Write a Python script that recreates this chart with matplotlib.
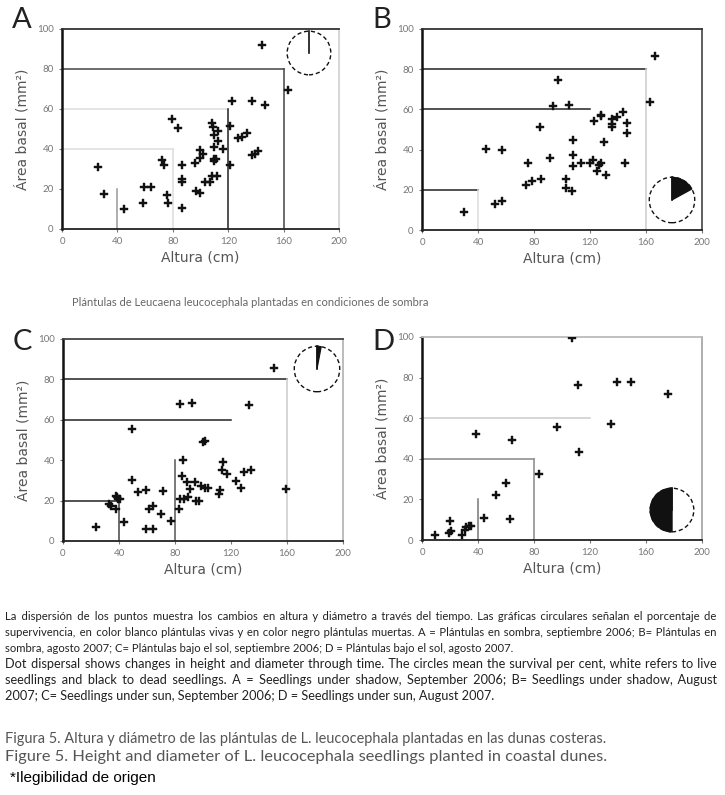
import numpy as np
import matplotlib
matplotlib.use("Agg")
import matplotlib.pyplot as plt
from matplotlib.patches import Circle, Wedge

plt.rcParams['font.family'] = ['Lato', 'DejaVu Sans']

# ---- data ----
a_x = [25.7, 30.3, 45, 58.7, 59.1, 64, 72.4, 73.3, 75.5, 76.4, 79.6, 83.4, 86.5, 86.3, 87, 87,
       96.2, 97.1, 99.8, 99.3, 99.8, 101.7, 103.4, 106.7, 108.2, 108.7, 109.4, 109.4, 109.6, 110.1,
       108.4, 112, 111.5, 112.3, 112.5, 116.3, 121.2, 121.4, 122.8, 127.4, 130.3, 133.4, 137, 137,
       139, 141.6, 144.7, 146.6, 163]
a_y = [31.2, 17.3, 10.2, 12.8, 21.2, 21.2, 34.5, 32.2, 17, 13.2, 54.8, 50.5, 32, 24.8, 23.5, 10.3,
       32.8, 18.8, 18.2, 35.3, 39.5, 37.5, 23.5, 23.7, 52.8, 50.8, 47, 40.8, 35, 34,
       26.7, 26.7, 35.2, 49.2, 44, 39.8, 51.5, 31.8, 64, 45.3, 45.8, 47.8, 64, 36.8,
       37.3, 39, 91.8, 61.8, 69.5]

b_x = [30, 46, 52, 57.2, 57, 74.6, 75.8, 78.9, 84.6, 84.9, 91.5, 93.4, 96.8, 102.7, 103, 104.9,
       107, 107.5, 107.5, 108, 113.5, 119.9, 122.3, 122.8, 124.7, 126.6, 127.5, 128, 128, 129.7,
       131.1, 135.4, 135.9, 135.9, 139, 143.7, 144.9, 146.6, 146.6, 162.8, 166.6]
b_y = [9, 40.5, 12.9, 14.3, 39.8, 22.4, 33.2, 24.5, 51.4, 25.4, 35.8, 61.7, 74.6, 25.2, 21.1, 62.4,
       19.6, 44.8, 37.1, 31.7, 33.5, 33.2, 34.8, 54.2, 29.5, 32.5, 33.3, 57.2, 56.7, 43.6,
       27.4, 51.4, 55.2, 52.7, 56, 58.9, 33.2, 53.1, 48.4, 63.7, 86.6]

c_x = [23.9, 32.7, 34.1, 37.5, 37.9, 38.7, 39.6, 41, 43.7, 49.4, 49.4, 53.5, 59.4, 59.4, 61.3, 64.2,
       64.4, 69.7, 71.6, 77.3, 83.1, 83.5, 83.5, 85, 85.4, 86.2, 88.8, 89.5, 90.7, 92.4, 94.3, 95.2,
       97.4, 98.6, 100.2, 101.4, 101.2, 103.6, 111.5, 112.2, 113.4, 114.3, 117.4, 123.6, 126.9,
       129.3, 132.5, 134.6, 150.4, 159.4]
c_y = [6.9, 18.5, 17.4, 15.9, 22.5, 22, 20.7, 20.7, 9.6, 30.2, 55.4, 24.1, 25.3, 5.8, 16, 17.4,
       5.8, 13.4, 25, 9.8, 15.9, 67.9, 20.8, 32.4, 40, 21, 29.1, 21.7, 25.6, 68.3, 29.3, 19.8,
       19.8, 27.3, 48.9, 49.6, 26.4, 26.4, 23.3, 25.3, 35.2, 39.3, 33.2, 29.9, 26.4,
       34.2, 67.4, 35, 85.5, 25.8]

d_x = [9.1, 19.3, 20, 21, 28.6, 30.8, 31.7, 33.6, 35.3, 38.9, 44.6, 52.9, 59.8, 62.7, 64.6, 83.4,
       96.3, 107.3, 111.3, 111.8, 134.7, 139.5, 149.5, 175.7]
d_y = [2.3, 3.3, 9.5, 4.6, 2.6, 4.9, 6.6, 7, 6.7, 52.3, 11, 22.1, 28.2, 10.2, 49.3, 32.5,
       55.6, 99.7, 76.2, 43.4, 56.9, 77.9, 77.9, 72.1]

# percentage of dead seedlings (black part of the circles)
dead_pct = [0, 17, 3, 50]

# nested boxes (x limit, y limit)
boxes = [(40, 20), (80, 40), (120, 60), (160, 80)]

xticks = [0, 40, 80, 120, 160, 200]
yticks = [0, 20, 40, 60, 80, 100]

W, H = 725, 795
fig = plt.figure(figsize=(W / 100, H / 100), dpi=100)
renderer = fig.canvas.get_renderer()


def px_axes(left, top, right, bottom):
    return fig.add_axes([left / W, 1 - bottom / H, (right - left) / W, (bottom - top) / H])


def text_width(s, size, **kw):
    t = fig.text(0, 0, s, fontsize=size, **kw)
    w = t.get_window_extent(renderer).width
    t.remove()
    return w


# panel settings: axes box in px, box line colours (horizontal, vertical), spine colours
panels = [
    dict(letter="A", x=a_x, y=a_y, box=(62, 29, 339, 229),
         lines=[(None, '#999'), ('#ddd', '#ddd'), ('#ddd', '#222'), ('#444', '#444')],
         top='#333', right='#ccc', pie=(309, 53, 22), dead=dead_pct[0]),
    dict(letter="B", x=b_x, y=b_y, box=(422, 29, 702, 230),
         lines=[('#222', '#ddd'), (None, None), ('#222', None), ('#222', '#ccc')],
         top='#333', right='#333', pie=(672, 200, 23), dead=dead_pct[1]),
    dict(letter="C", x=c_x, y=c_y, box=(63, 339, 343, 541),
         lines=[('#222', '#444'), (None, '#555'), ('#222', None), ('#222', '#ccc')],
         top='#444', right='#aaa', pie=(317, 369, 23), dead=dead_pct[2]),
    dict(letter="D", x=d_x, y=d_y, box=(422, 337, 702, 540),
         lines=[(None, '#777'), ('#888', '#888'), ('#ccc', None), (None, None)],
         top='#bbb', right='#999', pie=(672, 510, 22), dead=dead_pct[3]),
]

letter_pos = {"A": (12, 28), "B": (372, 28), "C": (13, 350), "D": (372, 350)}

for p in panels:
    l, t, r, b = p["box"]
    ax = px_axes(l, t, r, b)
    ax.set_xlim(0, 200)
    ax.set_ylim(0, 100)
    for (bx, by), (hc, vc) in zip(boxes, p["lines"]):
        if hc:
            ax.plot([0, bx], [by, by], color=hc, lw=1.1, zorder=1)
        if vc:
            ax.plot([bx, bx], [0, by], color=vc, lw=1.1, zorder=1)
    ax.plot(p["x"], p["y"], 'P', color='#111', ms=5.3, mec='#111', mew=0.3, ls='none', zorder=3)
    ax.set_xticks(xticks)
    ax.set_yticks(yticks)
    ax.tick_params(labelsize=7, colors='#777', length=2, width=0.8, pad=4)
    ax.spines['left'].set_linewidth(1.8)
    ax.spines['left'].set_color('#111')
    ax.spines['bottom'].set_linewidth(1.3)
    ax.spines['bottom'].set_color('#222')
    ax.spines['top'].set_color(p["top"])
    ax.spines['top'].set_linewidth(1.3)
    ax.spines['right'].set_color(p["right"])
    ax.spines['right'].set_linewidth(1.1)
    ax.set_xlabel("Altura (cm)", fontsize=10, color='#555', labelpad=3,
                  family='DejaVu Sans')
    ax.set_ylabel("Área basal (mm²)", fontsize=10, color='#555', labelpad=5,
                  family='DejaVu Sans')

    lx, ly = letter_pos[p["letter"]]
    fig.text(lx / W, 1 - ly / H, p["letter"], fontsize=21, color='#222', va='baseline')

    # survival circle
    cx, cy, rad = p["pie"]
    pax = px_axes(cx - rad - 2, cy - rad - 2, cx + rad + 2, cy + rad + 2)
    pax.set_xlim(-1.1, 1.1)
    pax.set_ylim(-1.1, 1.1)
    pax.set_aspect('equal')
    pax.axis('off')
    pax.add_patch(Circle((0, 0), 1, fill=False, ls=(0, (3, 2)), lw=1.0, ec='#111'))
    ang = 360 * p["dead"] / 100
    if p["dead"] >= 50:
        pax.add_patch(Wedge((0, 0), 1, 90, 90 + ang, fc='#111', ec='#111', lw=1.0))
    elif p["dead"] > 0:
        pax.add_patch(Wedge((0, 0), 1, 90 - ang, 90, fc='#111', ec='#111', lw=0.8))
    pax.plot([0, 0], [0, 1], color='#111', lw=1.2)

# middle title
mid = "Plántulas de Leucaena leucocephala plantadas en condiciones de sombra"
fig.text(72 / W, 1 - 302 / H, mid, fontsize=8.6 * 353 / text_width(mid, 8.6),
         color='#666', va='center')

# caption paragraphs, justified by hand
cap_es = ["La dispersión de los puntos muestra los cambios en altura y diámetro a través del tiempo. Las gráficas circulares señalan el porcentaje de",
          "supervivencia, en color blanco plántulas vivas y en color negro plántulas muertas. A = Plántulas en sombra, septiembre 2006; B= Plántulas en",
          "sombra, agosto 2007; C= Plántulas bajo el sol, septiembre 2006;  D = Plántulas bajo el sol, agosto 2007."]
cap_en = ["Dot dispersal shows changes in height and diameter through time. The circles mean the survival per cent, white refers to live",
          "seedlings and black to dead seedlings. A = Seedlings under shadow, September 2006; B= Seedlings under shadow, August",
          "2007; C= Seedlings under sun, September 2006; D = Seedlings under sun, August 2007."]

HAIR = "\u200a"
RIGHT = 712


def caption_line(line, ypx, justify, size):
    # pad the gaps with hair spaces so the line reaches the right margin
    words = line.split()
    text = " ".join(words)
    if justify:
        hair_w = (text_width("a" + HAIR * 10 + "a", size) - text_width("aa", size)) / 10
        gaps = len(words) - 1
        for _ in range(3):
            extra = RIGHT - text_width(text, size)
            n = max(int(extra / hair_w), 0)
            if n == 0:
                break
            pads = [n // gaps + (1 if i < n % gaps else 0) for i in range(gaps)]
            parts = text.split(" ")
            text = parts[0] + "".join(" " + HAIR * k + w for k, w in zip(pads, parts[1:]))
    fig.text(5 / W, 1 - ypx / H, text, fontsize=size, color='#222', va='baseline')


for para, y0 in ((cap_es, 620), (cap_en, 668)):
    widest = max(text_width(s, 8.0) for s in para[:-1])
    size = 8.0 * 700 / widest
    for i, line in enumerate(para):
        caption_line(line, y0 + 16 * i, i < len(para) - 1, size)

fig_es = "Figura 5. Altura y diámetro de las plántulas de L. leucocephala plantadas en las dunas costeras."
fig_en = "Figure 5. Height and diameter of L. leucocephala seedlings planted in coastal dunes."
fig.text(5 / W, 1 - 743 / H, fig_es, fontsize=9 * 603 / text_width(fig_es, 9),
         color='#555', va='baseline')
fig.text(5 / W, 1 - 761 / H, fig_en, fontsize=9 * 603 / text_width(fig_en, 9),
         color='#555', va='baseline')
fig.text(10 / W, 1 - 778 / H, "*Ilegibilidad de origen", fontsize=11, color='#000', va='center',
         family='Liberation Sans')

fig.savefig("out.png", dpi=100)
